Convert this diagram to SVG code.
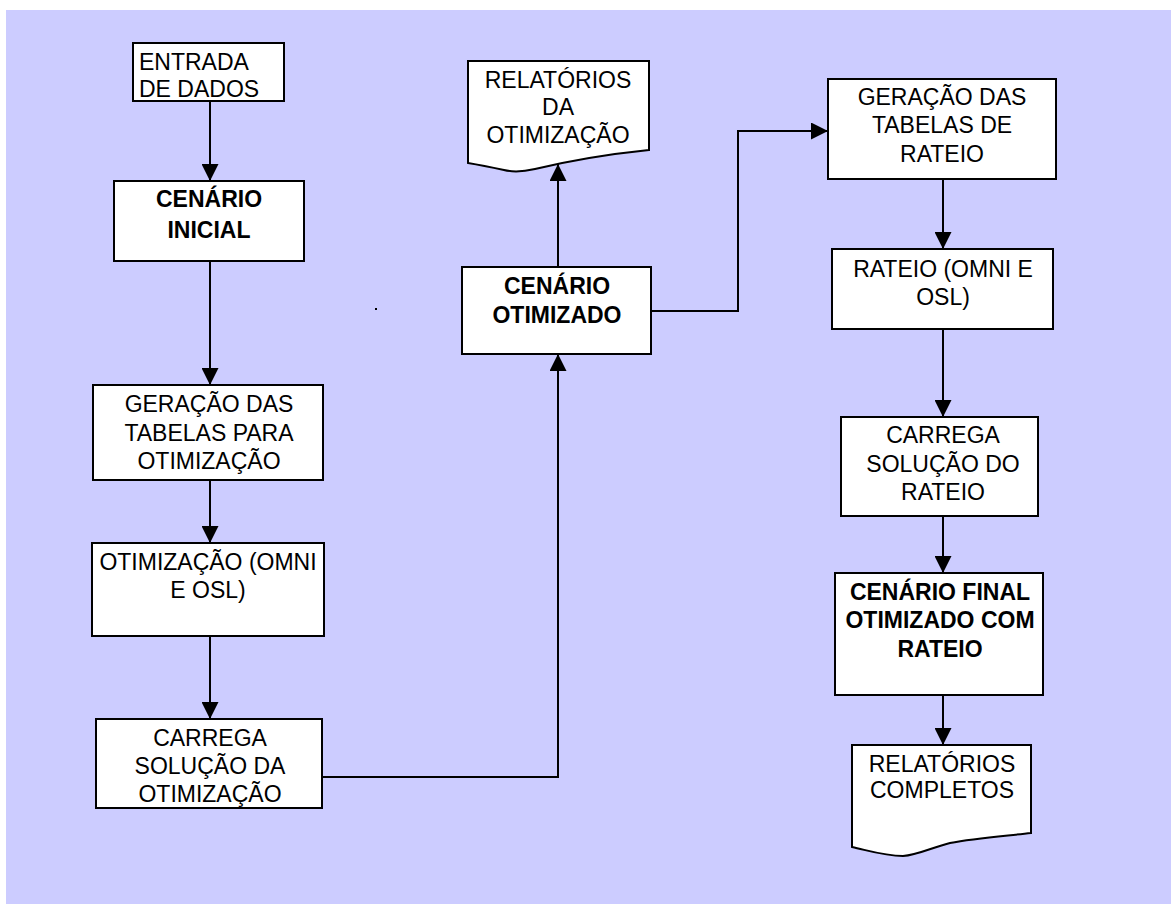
<svg xmlns="http://www.w3.org/2000/svg" width="1171" height="904" viewBox="0 0 1171 904">
  <style>
    .box { fill: #ffffff; stroke: #000000; stroke-width: 2; }
    .lbl { font-family: "Liberation Sans", Arial, sans-serif; font-size: 23px; fill: #000000; text-anchor: middle; }
    .lbl-left { text-anchor: start; }
    .bold { font-weight: bold; }
    .conn { fill: none; stroke: #000000; stroke-width: 2; }
  </style>
  <defs>
    <marker id="arrow" viewBox="0 0 17 17" refX="17" refY="8.5" markerWidth="17" markerHeight="17" markerUnits="userSpaceOnUse" orient="auto">
      <path d="M0,0 L17,8.5 L0,17 Z" fill="#000000"/>
    </marker>
  </defs>

  <!-- page background -->
  <rect x="6" y="10" width="1165" height="894" fill="#CCCCFF"/>
  <rect x="375" y="308" width="2" height="2" fill="#000000"/>

  <!-- connectors -->
  <g id="connectors">
    <path class="conn" d="M210,101 V181" marker-end="url(#arrow)"/>
    <path class="conn" d="M210,261 V385" marker-end="url(#arrow)"/>
    <path class="conn" d="M210,480 V543" marker-end="url(#arrow)"/>
    <path class="conn" d="M210,636 V719" marker-end="url(#arrow)"/>
    <path class="conn" d="M322,777 H558 V354" marker-end="url(#arrow)"/>
    <path class="conn" d="M558,267 V164" marker-end="url(#arrow)"/>
    <path class="conn" d="M651,311 H738 V131 H828" marker-end="url(#arrow)"/>
    <path class="conn" d="M943,179 V249" marker-end="url(#arrow)"/>
    <path class="conn" d="M943,329 V417" marker-end="url(#arrow)"/>
    <path class="conn" d="M943,516 V573" marker-end="url(#arrow)"/>
    <path class="conn" d="M943,695 V745" marker-end="url(#arrow)"/>
  </g>

  <!-- left column -->
  <g id="entrada-dados">
    <rect class="box" x="133" y="43" width="151" height="58"/>
    <text class="lbl lbl-left" x="139" y="70">ENTRADA</text>
    <text class="lbl lbl-left" x="139" y="97">DE DADOS</text>
  </g>

  <g id="cenario-inicial">
    <rect class="box" x="114" y="181" width="190" height="80"/>
    <text class="lbl bold" x="209" y="207">CENÁRIO</text>
    <text class="lbl bold" x="209" y="238">INICIAL</text>
  </g>

  <g id="geracao-tabelas-otimizacao">
    <rect class="box" x="93" y="385" width="230" height="95"/>
    <text class="lbl" x="209" y="412">GERAÇÃO DAS</text>
    <text class="lbl" x="209" y="441">TABELAS PARA</text>
    <text class="lbl" x="209" y="469">OTIMIZAÇÃO</text>
  </g>

  <g id="otimizacao">
    <rect class="box" x="92" y="543" width="232" height="93"/>
    <text class="lbl" x="208" y="570">OTIMIZAÇÃO (OMNI</text>
    <text class="lbl" x="208" y="598">E OSL)</text>
  </g>

  <g id="carrega-solucao-otimizacao">
    <rect class="box" x="96" y="719" width="226" height="89"/>
    <text class="lbl" x="210" y="746">CARREGA</text>
    <text class="lbl" x="210" y="774">SOLUÇÃO DA</text>
    <text class="lbl" x="210" y="802">OTIMIZAÇÃO</text>
  </g>

  <!-- middle column -->
  <g id="relatorios-otimizacao">
    <path class="box" d="M468,61 H649 V150 C600,155 560,163 535,169 C522,172 512,172 504,170 C490,167 480,165 468,163 Z"/>
    <text class="lbl" x="558" y="88">RELATÓRIOS</text>
    <text class="lbl" x="558" y="115">DA</text>
    <text class="lbl" x="558" y="143">OTIMIZAÇÃO</text>
  </g>

  <g id="cenario-otimizado">
    <rect class="box" x="462" y="267" width="189" height="87"/>
    <text class="lbl bold" x="557" y="294">CENÁRIO</text>
    <text class="lbl bold" x="557" y="323">OTIMIZADO</text>
  </g>

  <!-- right column -->
  <g id="geracao-tabelas-rateio">
    <rect class="box" x="828" y="79" width="228" height="100"/>
    <text class="lbl" x="942" y="105">GERAÇÃO DAS</text>
    <text class="lbl" x="942" y="133">TABELAS DE</text>
    <text class="lbl" x="942" y="162">RATEIO</text>
  </g>

  <g id="rateio">
    <rect class="box" x="832" y="249" width="221" height="80"/>
    <text class="lbl" x="943" y="277">RATEIO (OMNI E</text>
    <text class="lbl" x="943" y="305">OSL)</text>
  </g>

  <g id="carrega-solucao-rateio">
    <rect class="box" x="841" y="417" width="197" height="99"/>
    <text class="lbl" x="943" y="443">CARREGA</text>
    <text class="lbl" x="943" y="472">SOLUÇÃO DO</text>
    <text class="lbl" x="943" y="500">RATEIO</text>
  </g>

  <g id="cenario-final">
    <rect class="box" x="835" y="573" width="208" height="122"/>
    <text class="lbl bold" x="940" y="600">CENÁRIO FINAL</text>
    <text class="lbl bold" x="940" y="628">OTIMIZADO COM</text>
    <text class="lbl bold" x="940" y="657">RATEIO</text>
  </g>

  <g id="relatorios-completos">
    <path class="box" d="M852,745 H1031 V833 C1005,836 975,838 950,843 C930,848 918,855 903,856 C885,856 870,851 852,847 Z"/>
    <text class="lbl" x="942" y="772">RELATÓRIOS</text>
    <text class="lbl" x="942" y="798">COMPLETOS</text>
  </g>
</svg>
